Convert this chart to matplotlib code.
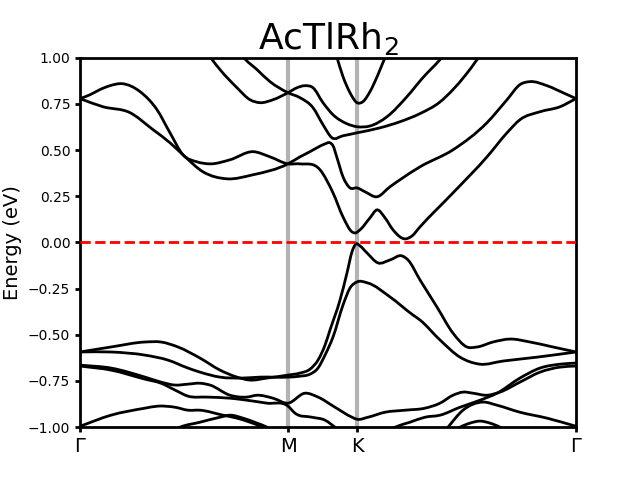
import matplotlib
matplotlib.use('Agg')
import matplotlib.pyplot as plt
from matplotlib.path import Path
from matplotlib.patches import PathPatch

# high-symmetry path (path length units)
kpt_pos = [0.0, 2.08, 2.77, 4.96]
kpt_labels = ['Γ', 'M', 'K', 'Γ']

# conduction bands
cb_a_k = [0, 0.23, 0.50, 0.73, 0.90, 1.03, 1.23, 1.47, 1.73, 2.08, 2.20, 2.30, 2.38, 2.45, 2.50, 2.53, 2.57,
          2.63, 2.70, 2.77, 2.85, 2.97, 3.10, 3.20, 3.40, 3.73, 4.07, 4.27, 4.40, 4.50, 4.67, 4.83, 4.96]
cb_a_e = [0.778, 0.734, 0.702, 0.610, 0.539, 0.474, 0.382, 0.344, 0.366, 0.425, 0.463, 0.491, 0.515, 0.533,
          0.539, 0.523, 0.458, 0.355, 0.295, 0.295, 0.274, 0.247, 0.301, 0.339, 0.409, 0.501, 0.648, 0.772,
          0.854, 0.870, 0.848, 0.810, 0.778]

cb_b_k = [0, 0.10, 0.20, 0.30, 0.42, 0.60, 0.77, 0.90, 1.03, 1.17, 1.30, 1.50, 1.73, 1.90, 2.08, 2.20, 2.40,
          2.53, 2.63, 2.72, 2.75, 2.80, 2.90, 2.97, 3.05, 3.13, 3.25, 3.32, 3.40, 3.73, 4.07, 4.27, 4.40,
          4.60, 4.80, 4.96]
cb_b_e = [0.778, 0.799, 0.827, 0.848, 0.859, 0.816, 0.718, 0.593, 0.474, 0.436, 0.425, 0.447, 0.491, 0.463,
          0.425, 0.425, 0.393, 0.268, 0.138, 0.057, 0.051, 0.068, 0.133, 0.176, 0.133, 0.068, 0.019, 0.035,
          0.084, 0.268, 0.463, 0.593, 0.664, 0.707, 0.734, 0.778]

cb_c_k = [1.20, 1.30, 1.40, 1.57, 1.70, 1.80, 1.93, 2.08, 2.17, 2.25, 2.33, 2.43, 2.53, 2.67, 2.77, 2.90,
          3.07, 3.27, 3.43, 3.60, 3.70]
cb_c_e = [1.087, 1.005, 0.935, 0.837, 0.772, 0.756, 0.772, 0.810, 0.837, 0.848, 0.837, 0.756, 0.691, 0.642,
          0.626, 0.630, 0.680, 0.789, 0.892, 0.989, 1.054]

cb_d_k = [1.55, 1.63, 1.77, 1.90, 2.08, 2.20, 2.33, 2.43, 2.52, 2.63, 2.77, 3.00, 3.20, 3.40, 3.60, 3.73,
          3.85, 3.97, 4.05]
cb_d_e = [1.070, 1.005, 0.935, 0.870, 0.810, 0.783, 0.729, 0.637, 0.566, 0.577, 0.593, 0.620, 0.653, 0.697,
          0.760, 0.827, 0.902, 0.989, 1.054]

cb_e_k = [2.53, 2.57, 2.63, 2.70, 2.77, 2.83, 2.90, 2.98, 3.05, 3.10]
cb_e_e = [1.070, 1.000, 0.897, 0.810, 0.756, 0.762, 0.816, 0.908, 1.000, 1.060]

# valence bands
vb_1_k = [0, 0.31, 0.65, 0.81, 0.98, 1.20, 1.40, 1.57, 1.70, 1.87, 2.08, 2.20, 2.30, 2.38, 2.45, 2.50, 2.60,
          2.67, 2.72, 2.76, 2.80, 2.87, 2.98, 3.10, 3.22, 3.28, 3.40, 3.57, 3.73, 3.87, 3.97, 4.13, 4.30,
          4.50, 4.73, 4.96]
vb_1_e = [-0.593, -0.566, -0.539, -0.539, -0.566, -0.626, -0.691, -0.729, -0.745, -0.734, -0.718, -0.707,
          -0.686, -0.637, -0.556, -0.474, -0.312, -0.165, -0.051, -0.008, -0.019, -0.057, -0.111, -0.095,
          -0.073, -0.095, -0.203, -0.350, -0.491, -0.566, -0.566, -0.539, -0.523, -0.539, -0.566, -0.593]

vb_2_k = [0, 0.31, 0.65, 0.88, 1.08, 1.20, 1.40, 1.63, 1.80, 2.08, 2.20, 2.30, 2.38, 2.45, 2.53, 2.63, 2.70,
          2.77, 2.88, 3.10, 3.33, 3.40, 3.60, 3.80, 4.00, 4.23, 4.57, 4.96]
vb_2_e = [-0.593, -0.593, -0.610, -0.637, -0.680, -0.702, -0.729, -0.734, -0.729, -0.729, -0.724, -0.713,
          -0.680, -0.610, -0.512, -0.339, -0.247, -0.214, -0.220, -0.295, -0.393, -0.420, -0.528, -0.621,
          -0.659, -0.642, -0.621, -0.593]

vb_3_k = [0, 0.31, 0.65, 0.81, 0.95, 1.08, 1.20, 1.30, 1.50, 1.67, 1.77, 1.93, 2.08, 2.25, 2.38, 2.55, 2.72,
          2.77, 2.88, 3.05, 3.25, 3.45, 3.60, 3.73, 3.83, 3.93, 4.07, 4.20, 4.40, 4.60, 4.80, 4.96]
vb_3_e = [-0.664, -0.680, -0.729, -0.756, -0.772, -0.767, -0.762, -0.772, -0.827, -0.837, -0.827, -0.843,
          -0.870, -0.816, -0.837, -0.892, -0.946, -0.957, -0.946, -0.919, -0.908, -0.897, -0.870, -0.827,
          -0.810, -0.816, -0.827, -0.810, -0.756, -0.702, -0.675, -0.669]

vb_4_k = [0, 0.31, 0.65, 0.81, 0.95, 1.08, 1.27, 1.50, 1.67, 1.87, 2.08, 2.15, 2.32, 2.45, 2.55, 2.65]
vb_4_e = [-0.669, -0.691, -0.740, -0.762, -0.799, -0.832, -0.837, -0.843, -0.854, -0.870, -0.886, -0.924,
          -0.946, -0.962, -1.000, -1.043]

vb_5_k = [3.05, 3.15, 3.30, 3.45, 3.60, 3.80, 4.00, 4.17, 4.40, 4.60, 4.80, 4.96]
vb_5_e = [-1.027, -1.000, -0.973, -0.946, -0.935, -0.892, -0.854, -0.816, -0.734, -0.680, -0.659, -0.653]

vb_6_k = [3.60, 3.68, 3.83, 4.03, 4.17, 4.40, 4.67, 4.96]
vb_6_e = [-1.054, -1.000, -0.908, -0.864, -0.881, -0.919, -0.951, -0.995]

vb_7_k = [3.72, 3.80, 3.90, 4.00, 4.10, 4.20, 4.28]
vb_7_e = [-1.027, -1.000, -0.978, -0.967, -0.978, -1.000, -1.027]

vb_8_k = [0, 0.31, 0.65, 0.78, 0.95, 1.08, 1.20, 1.43, 1.57, 1.70, 1.83, 1.95]
vb_8_e = [-0.995, -0.935, -0.897, -0.886, -0.892, -0.908, -0.908, -0.935, -0.951, -0.973, -1.000, -1.027]

vb_9_k = [0.90, 1.00, 1.20, 1.40, 1.50, 1.63, 1.77, 1.87, 1.95]
vb_9_e = [-1.027, -1.000, -0.973, -0.946, -0.935, -0.951, -0.978, -1.000, -1.027]

bands = [
    (cb_a_k, cb_a_e), (cb_b_k, cb_b_e), (cb_c_k, cb_c_e), (cb_d_k, cb_d_e), (cb_e_k, cb_e_e),
    (vb_1_k, vb_1_e), (vb_2_k, vb_2_e), (vb_3_k, vb_3_e), (vb_4_k, vb_4_e), (vb_5_k, vb_5_e),
    (vb_6_k, vb_6_e), (vb_7_k, vb_7_e), (vb_8_k, vb_8_e), (vb_9_k, vb_9_e),
]


def smooth_path(k, e):
    # cubic Hermite through the read points, drawn as Bezier segments
    n = len(k)
    slopes = []
    for i in range(n):
        if i == 0:
            slopes.append((e[1] - e[0]) / (k[1] - k[0]))
        elif i == n - 1:
            slopes.append((e[-1] - e[-2]) / (k[-1] - k[-2]))
        else:
            h0 = k[i] - k[i - 1]
            h1 = k[i + 1] - k[i]
            d0 = (e[i] - e[i - 1]) / h0
            d1 = (e[i + 1] - e[i]) / h1
            slopes.append((d0 * h1 + d1 * h0) / (h0 + h1))
    verts = [(k[0], e[0])]
    codes = [Path.MOVETO]
    for i in range(n - 1):
        h = k[i + 1] - k[i]
        verts += [(k[i] + h / 3, e[i] + slopes[i] * h / 3),
                  (k[i + 1] - h / 3, e[i + 1] - slopes[i + 1] * h / 3),
                  (k[i + 1], e[i + 1])]
        codes += [Path.CURVE4] * 3
    return Path(verts, codes)


fig, ax = plt.subplots(figsize=(6.4, 4.8), dpi=100)

for xk in kpt_pos[1:-1]:
    ax.axvline(xk, color='#b3b3b3', lw=3, zorder=1)

for k, e in bands:
    ax.add_patch(PathPatch(smooth_path(k, e), fill=False, edgecolor='black', lw=2, zorder=2))

ax.axhline(0, color='red', ls='--', lw=2, zorder=3)

ax.set_xlim(kpt_pos[0], kpt_pos[-1])
ax.set_ylim(-1, 1)
ax.set_xticks(kpt_pos)
ax.set_xticklabels(kpt_labels, fontsize=14)
ax.set_yticks([-1, -0.75, -0.5, -0.25, 0, 0.25, 0.5, 0.75, 1.0])
ax.set_ylabel('Energy (eV)', fontsize=14)
ax.set_title('AcTlRh$_2$', fontsize=26)
ax.tick_params(width=2)
for sp in ax.spines.values():
    sp.set_linewidth(2)

plt.savefig('out.png', dpi=100)
